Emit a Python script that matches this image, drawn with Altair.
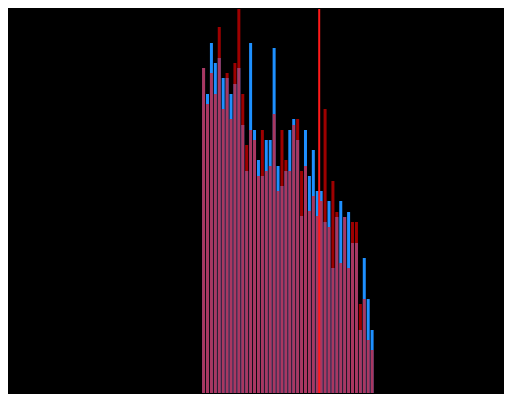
import altair as alt
import pandas as pd

# bar index (category order)
idx = list(range(44))
# series A (blue) heights
blue_vals = [333, 307, 358, 338, 343, 323, 323, 307, 317, 333, 276, 230, 358, 271, 241, 225,
             261, 261, 353, 235, 215, 230, 271, 282, 261, 185, 271, 225, 251, 210, 210, 179,
             200, 133, 184, 200, 184, 189, 158, 158, 71, 143, 102, 71]
# series B (red) heights
red_vals = [333, 297, 328, 307, 374, 292, 328, 282, 338, 400, 307, 256, 271, 261, 225, 271,
            230, 235, 287, 210, 271, 241, 230, 276, 282, 230, 235, 190, 205, 185, 200, 292,
            174, 220, 189, 138, 184, 133, 179, 179, 97, 102, 61, 51]
# marker position
marker = [29.5]

df = pd.DataFrame({"i": idx, "blue": blue_vals, "red": red_vals})
mdf = pd.DataFrame({"m": marker})

xs = alt.Scale(domain=[-48.625, 75.375], nice=False, zero=False)
ys = alt.Scale(domain=[8, 392], nice=False, zero=False)

base = alt.Chart(df)
b1 = base.mark_bar(width=3, color="#1e90ff", clip=True).encode(
    x=alt.X("i:Q", scale=xs, axis=None),
    y=alt.Y("blue:Q", scale=ys, axis=None),
)
b2 = base.mark_bar(width=3, color="#ff0000", opacity=0.62, clip=True).encode(
    x=alt.X("i:Q", scale=xs, axis=None),
    y=alt.Y("red:Q", scale=ys, axis=None),
)
rule = alt.Chart(mdf).mark_rule(color="#ff1a1a", strokeWidth=2, opacity=1).encode(
    x=alt.X("m:Q", scale=xs, axis=None)
)

chart = alt.layer(b1, b2, rule).properties(
    width=496, height=384, padding=0, background="#000000"
).configure_view(stroke=None)

chart.save("out.html", embed_options={"renderer": "svg", "actions": False})
